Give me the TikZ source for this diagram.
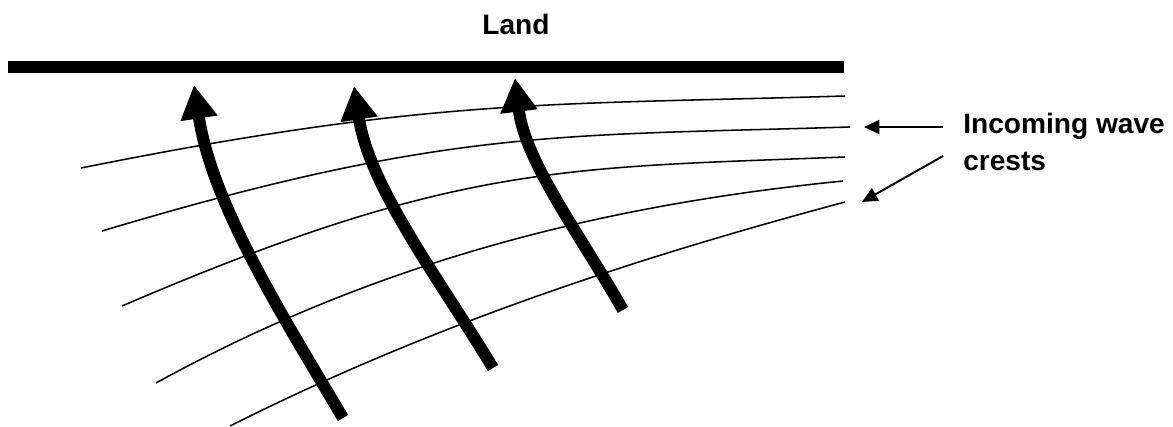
\documentclass[tikz,border=0pt]{standalone}
\usepackage{fontspec}
\setmainfont{Liberation Sans}
\usetikzlibrary{arrows.meta}

\begin{document}
\begin{tikzpicture}[x=0.25mm,y=-0.25mm,
    crest/.style={line width=1.1pt},
    ray/.style={line width=8.5pt,-{Triangle[length=24pt,width=25pt]}},
    pointer/.style={line width=1.4pt,-{Triangle[length=11pt,width=10pt]}},
    every node/.style={font=\bfseries\fontsize{20}{26}\selectfont,inner sep=0pt}]
  \useasboundingbox (0,0) rectangle (1173,427);
  % land
  \draw[line width=8.5pt] (8,67) -- (844,67);
  \node[anchor=base] (land) at (516,35) {Land};
  % wave crests
  \draw[crest] (81,168) .. controls (431,98) and (545,105) .. (845,96);
  \draw[crest] (102,231) .. controls (446,128) and (558,136) .. (850,127);
  \draw[crest] (122,306) .. controls (455,163) and (563,168) .. (845,157);
  \draw[crest] (156,383) .. controls (385,257) and (614,204) .. (843,181);
  \draw[crest] (230,426) .. controls (435,323) and (640,257) .. (845,202);
  % rays
  \draw[ray] (343,418) .. controls (282,315) and (212,204) .. (194,85);
  \draw[ray] (493,368) .. controls (440,280) and (369.5,188) .. (354,86);
  \draw[ray] (623,310) .. controls (581,236) and (525,162) .. (515,78);
  % label
  \node[anchor=north west,align=left] (crests) at (963,113) {Incoming wave\\crests};
  \coordinate (from1) at (943,127);
  \coordinate (from2) at (943,156);
  \coordinate (to1) at (864,127);
  \coordinate (to2) at (862,202);
  \draw[pointer] (from1) -- (to1);
  \draw[pointer] (from2) -- (to2);
\end{tikzpicture}
\end{document}
